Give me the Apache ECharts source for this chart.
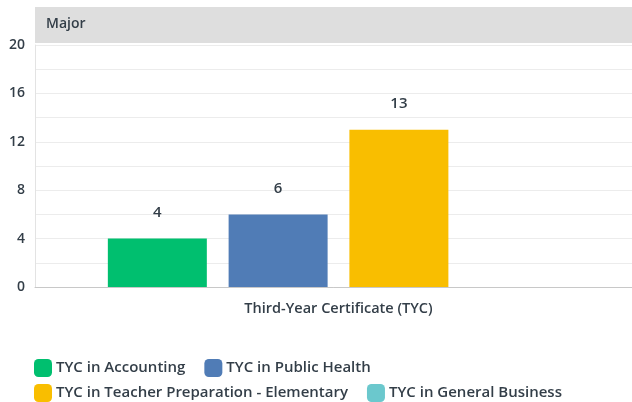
<!DOCTYPE html>
<html>
<head>
<meta charset="utf-8">
<script src="https://cdn.jsdelivr.net/npm/echarts@6/dist/echarts.min.js"></script>
<style>
  html, body { margin: 0; padding: 0; background: #fff; }
  #main { width: 632px; height: 402px; }
</style>
</head>
<body>
<div id="main"></div>
<script>
// data
var categories = ['Third-Year Certificate (TYC)']
var seriesNames = ['TYC in Accounting', 'TYC in Public Health', 'TYC in Teacher Preparation - Elementary', 'TYC in General Business']
var seriesValues = [[4], [6], [13], [0]]
var colors = ['#00bf6f', '#507cb6', '#f9be00', '#6bc8cd']
var yTicks = [0, 4, 8, 12, 16, 20]

var font = '"Open Sans", "Noto Sans", sans-serif'
var textColor = '#333e48'

var chart = echarts.init(document.getElementById('main'))

var series = []
for (var i = 0; i < seriesNames.length; i++) {
    series.push({
        name: seriesNames[i],
        type: 'bar',
        data: seriesValues[i],
        barGap: '22%',
        barCategoryGap: '24%',
        itemStyle: { color: colors[i] },
        label: {
            show: true,
            position: 'top',
            distance: 18,
            color: textColor,
            fontFamily: font,
            fontSize: 15,
            fontWeight: 600,
            formatter: function (p) { return p.value > 0 ? p.value : '' }
        }
    })
}

// legend in two rows
var legendBase = {
    left: 29,
    itemWidth: 18,
    itemHeight: 18,
    itemGap: 19,
    icon: 'roundRect',
    textStyle: { color: textColor, fontSize: 15, fontWeight: 600, fontFamily: font, padding: [0, 0, 0, -1] }
}

chart.setOption({
    animation: false,
    textStyle: { fontFamily: font },
    // plot runs a little past the right edge, as in the original
    grid: { left: 35, right: -10, top: 45, bottom: 115, outerBoundsMode: 'none' },
    graphic: [
        {
            type: 'rect',
            shape: { x: 35, y: 7, width: 597, height: 36 },
            style: { fill: '#dedede' },
            z: -1
        },
        {
            type: 'text',
            x: 46, y: 24,
            style: {
                text: 'Major',
                fill: textColor,
                font: '600 14px ' + font,
                textVerticalAlign: 'middle'
            }
        }
    ],
    legend: [
        Object.assign({}, legendBase, { top: 354, data: seriesNames.slice(0, 2) }),
        Object.assign({}, legendBase, { top: 379, data: seriesNames.slice(2) })
    ],
    xAxis: {
        type: 'category',
        data: categories,
        axisLine: { lineStyle: { color: '#c8c8c8' } },
        axisTick: { show: false },
        axisLabel: { color: textColor, fontSize: 14.5, fontWeight: 600, margin: 14 }
    },
    yAxis: {
        type: 'value',
        min: 0,
        max: 20,
        interval: 2,
        axisLine: { show: true, lineStyle: { color: '#e3e3e3' } },
        axisTick: { show: false },
        splitLine: { lineStyle: { color: '#ececec' } },
        axisLabel: {
            color: textColor,
            fontSize: 14,
            fontWeight: 600,
            margin: 10,
            formatter: function (v) { return yTicks.indexOf(v) >= 0 ? v : '' }
        }
    },
    series: series
})
</script>
</body>
</html>
